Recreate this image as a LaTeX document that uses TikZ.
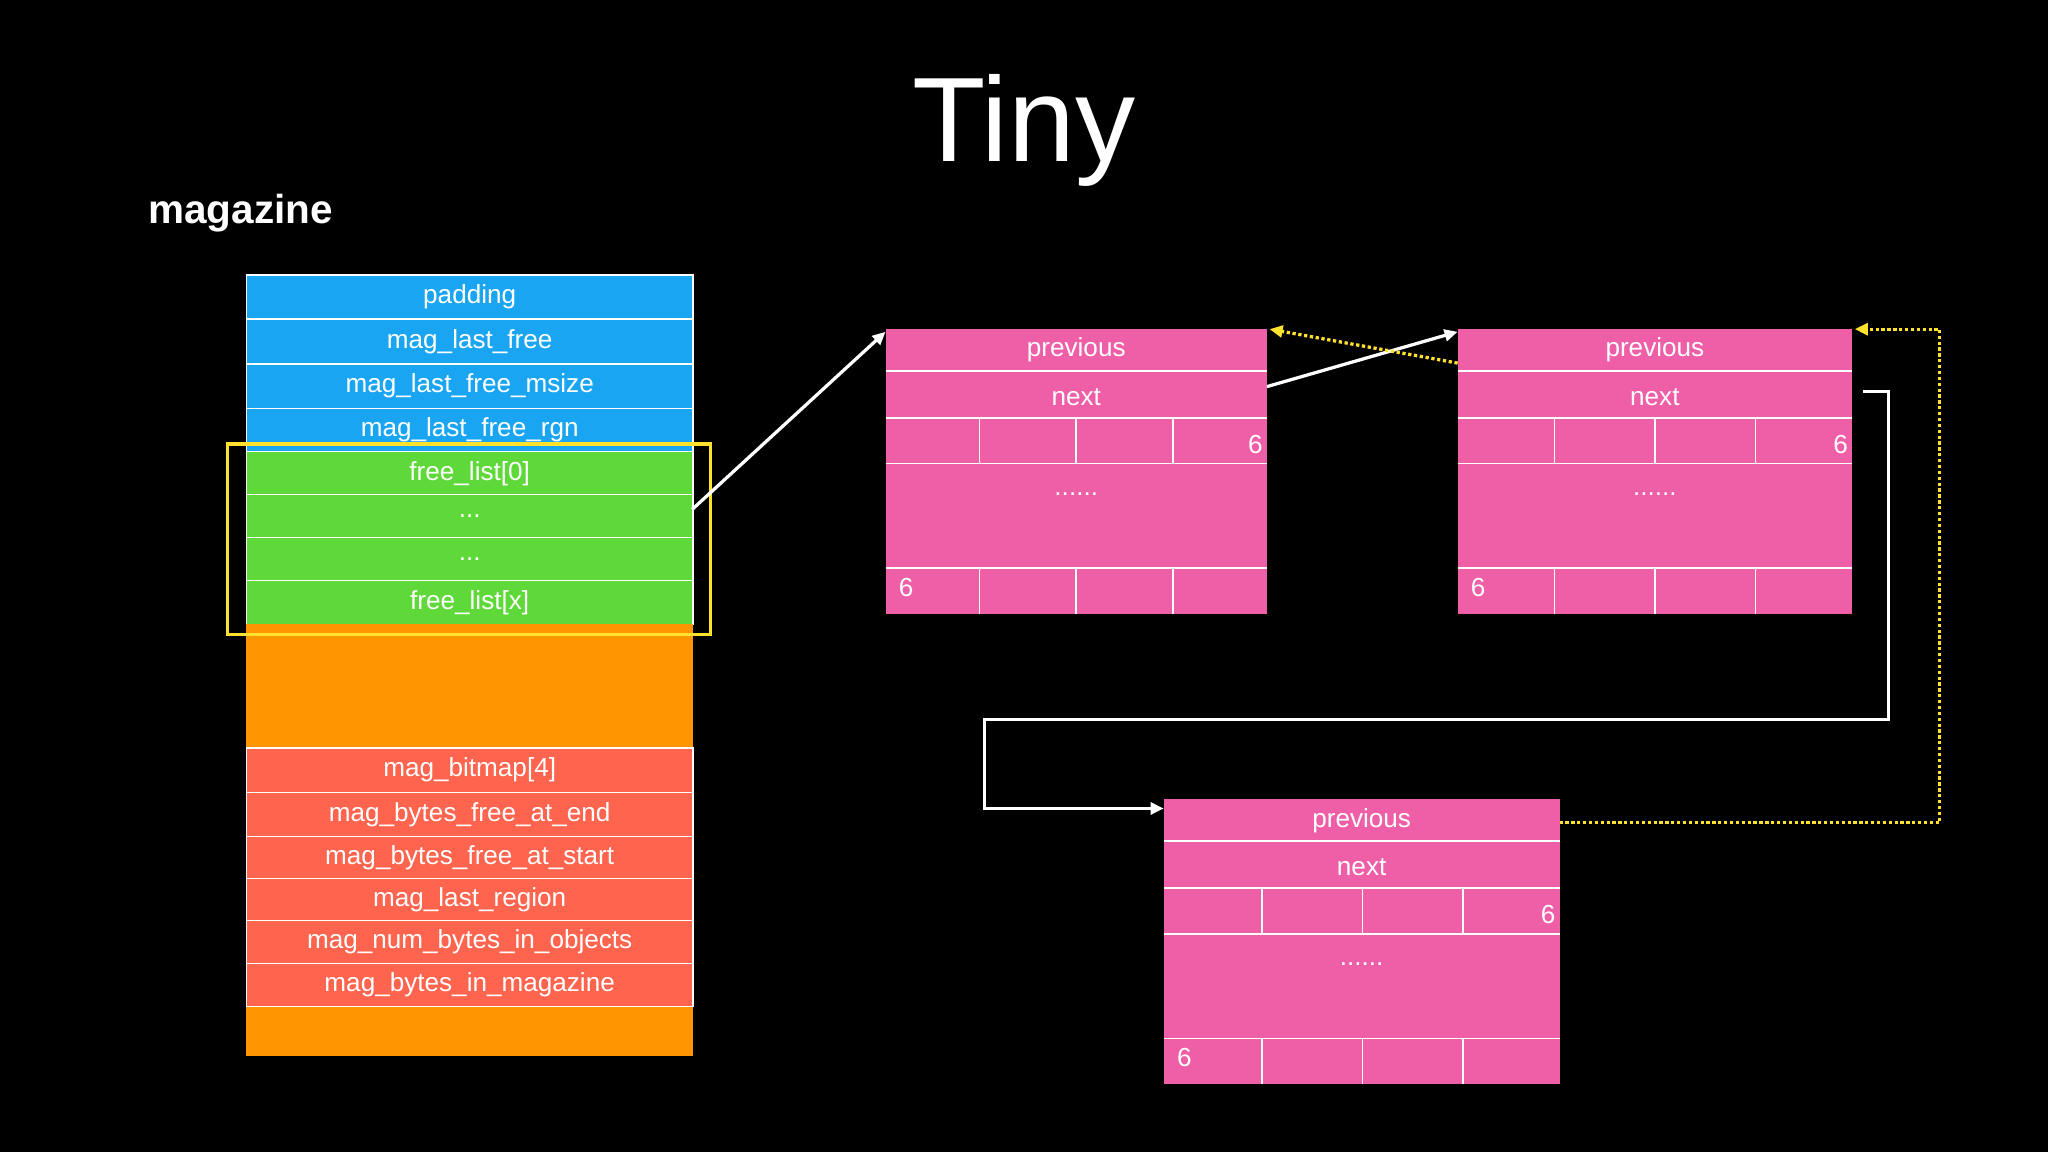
\documentclass[tikz,border=0pt]{standalone}
\usepackage{fontspec}
\setmainfont{Liberation Sans}
\usetikzlibrary{arrows.meta}
\definecolor{cblue}{HTML}{1AA5F2}
\definecolor{cgreen}{HTML}{5FD93A}
\definecolor{corange}{HTML}{FF9500}
\definecolor{cred}{HTML}{FF644E}
\definecolor{cpink}{HTML}{EF5FA8}
\definecolor{cyel}{HTML}{FFE12E}
\begin{document}
\begin{tikzpicture}[x=1pt,y=-1pt,
  row/.style={draw=white,line width=1.2pt,minimum width=342pt,minimum height=#1,inner sep=0pt,text=white,font=\fontsize{20}{24}\selectfont,anchor=north west},
  row/.default=33.5pt,
  ptxt/.style={text=white,font=\fontsize{20}{24}\selectfont,inner sep=0pt},
  arr/.style={white,line width=2.5pt,-{Triangle[length=10pt,width=9pt]}},
  yarr/.style={cyel,line width=2.5pt,dotted,-{Triangle[length=10pt,width=9pt]}}]
\fill[black] (0,0) rectangle (1568,882);
\useasboundingbox (0,0) rectangle (1568,882);
\node[text=white,font=\fontsize{92}{100}\selectfont] (title) at (784,100) {Tiny};
\node[text=white,font=\bfseries\fontsize{31}{36}\selectfont,anchor=west] (mag) at (110,163) {magazine};
% magazine column
\node[row,fill=cblue] (r1) at (188,210) {padding};
\node[row=34pt,fill=cblue] (r2) at (188,244) {mag\_last\_free};
\node[row=34pt,fill=cblue] (r3) at (188,278) {mag\_last\_free\_msize};
\node[row,fill=cblue] (r4) at (188,312) {mag\_last\_free\_rgn};
\node[row,fill=cgreen] (g1) at (188,345) {free\_list[0]};
\node[row,fill=cgreen] (g2) at (188,378) {...};
\node[row,fill=cgreen] (g3) at (188,411) {...};
\node[row,fill=cgreen] (g4) at (188,444) {free\_list[x]};
\node[row=95pt,fill=corange,draw=none] (o1) at (188,477) {};
\node[row=34pt,fill=cred] (d1) at (188,572) {mag\_bitmap[4]};
\node[row=34pt,fill=cred] (d2) at (188,606) {mag\_bytes\_free\_at\_end};
\node[row=32pt,fill=cred] (d3) at (188,640) {mag\_bytes\_free\_at\_start};
\node[row=32pt,fill=cred] (d4) at (188,672) {mag\_last\_region};
\node[row=33pt,fill=cred] (d5) at (188,704) {mag\_num\_bytes\_in\_objects};
\node[row=33pt,fill=cred] (d6) at (188,737) {mag\_bytes\_in\_magazine};
\node[row=38pt,fill=corange,draw=none] (o2) at (188,770) {};
\draw[cyel,line width=2.5pt] (174,340) rectangle (544,486);
\coordinate (fl) at (530,390);
% pink blocks
\newcommand{\pblock}[6]{% name, x0, x1, y0, d1,d2,d3 via #6? 
}
\foreach \nm/\xa/\xb/\ya/\da/\db/\dc in {b1/678/970/252/750/824/898, b2/1116/1418/252/1190/1267/1344, b3/891/1194/612/966/1043/1120}{
  \fill[cpink] (\xa,\ya) rectangle (\xb,\ya+218);
  \draw[white,line width=1.2pt] (\xa,\ya+32) -- (\xb,\ya+32) (\xa,\ya+68) -- (\xb,\ya+68)
     (\xa,\ya+103) -- (\xb,\ya+103) (\xa,\ya+183) -- (\xb,\ya+183);
  \foreach \d in {\da,\db,\dc}{
    \draw[white,line width=1.2pt] (\d,\ya+68) -- (\d,\ya+103) (\d,\ya+183) -- (\d,\ya+218);}
  \node[ptxt] (\nm p) at ({(\xa+\xb)/2},\ya+16) {previous};
  \node[ptxt] (\nm n) at ({(\xa+\xb)/2},\ya+52) {next};
  \node[ptxt,anchor=east] (\nm s) at (\xb-3,\ya+88) {6};
  \node[ptxt] (\nm d) at ({(\xa+\xb)/2},\ya+126) {......};
  \node[ptxt,anchor=west] (\nm t) at (\xa+10,\ya+198) {6};
  \coordinate (\nm tl) at (\xa,\ya+2);
  \coordinate (\nm tr) at (\xb+2,\ya);
  \coordinate (\nm nr) at (\xb,\ya+44);
  \coordinate (\nm pl) at (\xa,\ya+26);
  \coordinate (\nm pr) at (\xb,\ya+18);
}
\draw[arr] (fl) -- (b1tl);
\draw[arr] (b1nr) -- (b2tl);
\draw[yarr] (b2pl) -- (b1tr);
\draw[arr] (1426,300) -| (1446,551) -| (754,619) -- (b3tl |- 0,619);
\draw[yarr] (b3pr) -| (1485,252) -- (b2tr);
\end{tikzpicture}
\end{document}
